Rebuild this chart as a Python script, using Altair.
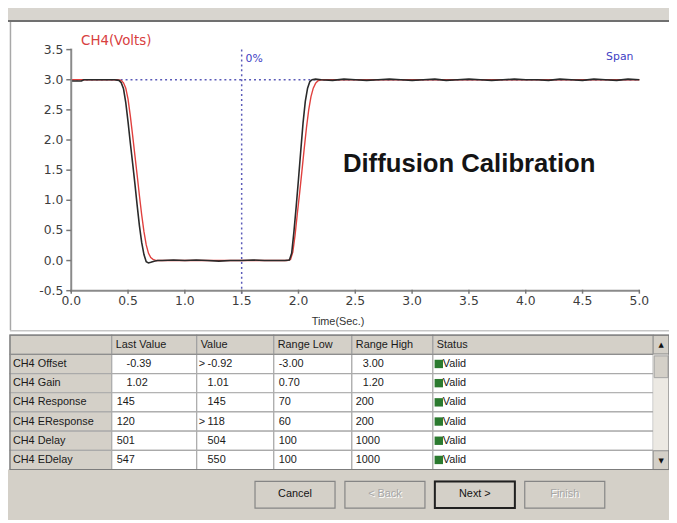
import altair as alt
import pandas as pd

# ---------------- data ----------------
t_black = [0.00, 0.05, 0.09, 0.11, 0.20, 0.30, 0.38, 0.42, 0.44, 0.46,
           0.48, 0.50, 0.52, 0.54, 0.56, 0.58, 0.60, 0.62, 0.64, 0.66,
           0.68, 0.70, 0.73, 0.76, 0.80, 0.90, 1.00, 1.10, 1.20, 1.30,
           1.40, 1.50, 1.60, 1.70, 1.80, 1.88, 1.92, 1.94, 1.96, 1.98,
           2.00, 2.02, 2.04, 2.06, 2.08, 2.10, 2.12, 2.15, 2.20, 2.30,
           2.40, 2.50, 2.60, 2.70, 2.80, 2.90, 3.00, 3.10, 3.20, 3.30,
           3.40, 3.50, 3.60, 3.70, 3.80, 3.90, 4.00, 4.10, 4.20, 4.30,
           4.40, 4.50, 4.60, 4.70, 4.80, 4.90, 5.00]
v_black = [2.98, 2.98, 2.98, 3.00, 3.00, 3.00, 3.00, 2.99, 2.95, 2.85,
           2.62, 2.30, 1.95, 1.62, 1.28, 0.92, 0.58, 0.30, 0.10, -0.02,
           -0.04, -0.03, -0.01, 0.00, 0.00, 0.01, 0.00, 0.01, 0.00, -0.01,
           0.00, 0.00, 0.01, 0.00, 0.00, 0.00, 0.01, 0.12, 0.48, 0.90,
           1.35, 1.82, 2.28, 2.64, 2.86, 2.97, 3.00, 3.01, 3.00, 2.99,
           3.01, 3.00, 2.99, 3.00, 3.01, 3.00, 2.99, 3.00, 3.01, 2.99,
           3.00, 3.01, 3.00, 2.99, 3.00, 3.01, 3.00, 3.00, 2.99, 3.01,
           3.00, 2.99, 3.01, 3.00, 2.99, 3.01, 3.00]
t_red = [0.00, 0.10, 0.20, 0.30, 0.40, 0.44, 0.46, 0.48, 0.50, 0.52,
         0.54, 0.56, 0.58, 0.60, 0.62, 0.64, 0.66, 0.68, 0.70, 0.72,
         0.75, 0.80, 0.90, 1.00, 1.20, 1.40, 1.60, 1.80, 1.90, 1.93,
         1.95, 1.97, 1.99, 2.01, 2.03, 2.05, 2.07, 2.09, 2.11, 2.13,
         2.15, 2.17, 2.20, 2.25, 2.40, 2.60, 3.00, 3.50, 4.00, 4.50,
         5.00]
v_red = [3.00, 3.00, 3.00, 3.00, 3.00, 2.99, 2.95, 2.86, 2.68, 2.40,
         2.08, 1.75, 1.42, 1.08, 0.76, 0.48, 0.26, 0.12, 0.05, 0.02,
         0.00, 0.00, 0.00, 0.00, 0.00, 0.00, 0.00, 0.00, 0.00, 0.02,
         0.14, 0.42, 0.78, 1.12, 1.48, 1.85, 2.20, 2.50, 2.72, 2.86,
         2.94, 2.98, 3.00, 3.00, 3.00, 3.00, 3.00, 3.00, 3.00, 3.00,
         3.00]

x_ticks = [0.0, 0.5, 1.0, 1.5, 2.0, 2.5, 3.0, 3.5, 4.0, 4.5, 5.0]
x_tick_labels = ["0.0", "0.5", "1.0", "1.5", "2.0", "2.5", "3.0", "3.5", "4.0", "4.5", "5.0"]
y_ticks = [-0.5, 0.0, 0.5, 1.0, 1.5, 2.0, 2.5, 3.0, 3.5]
y_tick_labels = ["-0.5", "0.0", "0.5", "1.0", "1.5", "2.0", "2.5", "3.0", "3.5"]
span_level = [3.0]
zero_time = [1.5]

params = ["CH4 Offset", "CH4 Gain", "CH4 Response", "CH4 EResponse", "CH4 Delay", "CH4 EDelay"]
last_value = ["-0.39", "1.02", "145", "120", "501", "547"]
value = ["-0.92", "1.01", "145", "118", "504", "550"]
value_flag = [">", "", "", ">", "", ""]
range_low = ["-3.00", "0.70", "70", "60", "100", "100"]
range_high = ["3.00", "1.20", "200", "200", "1000", "1000"]
status = ["Valid", "Valid", "Valid", "Valid", "Valid", "Valid"]
header_labels = ["", "Last Value", "Value", "Range Low", "Range High", "Status"]

buttons = ["Cancel", "< Back", "Next >", "Finish"]
button_enabled = [True, False, True, False]

# ---------------- layout helpers ----------------
OFF = 8          # page margin: reference pixel -> chart pixel
W, H = 669, 515


def P(v):
    return v - OFF


one = pd.DataFrame({"k": [0]})
GRAY = "#d4d0c8"
GRID = "#aaaaaa"
UI_FONT = "Liberation Sans"
AX_FONT = "DejaVu Sans"


def box(x1, y1, x2, y2, fill, stroke=None, sw=1.0):
    kw = {}
    if fill is None:
        kw["fillOpacity"] = 0
        kw["fill"] = "white"
    else:
        kw["fill"] = fill
    if stroke:
        kw["stroke"] = stroke
        kw["strokeWidth"] = sw
    return alt.Chart(one).mark_rect(**kw).encode(
        x=alt.value(P(x1)), x2=alt.value(P(x2)),
        y=alt.value(P(y1)), y2=alt.value(P(y2)))


def hline(x1, x2, y, color, w=1.0):
    return alt.Chart(one).mark_rule(color=color, strokeWidth=w).encode(
        x=alt.value(P(x1)), x2=alt.value(P(x2)), y=alt.value(P(y)))


def vline(x, y1, y2, color, w=1.0):
    return alt.Chart(one).mark_rule(color=color, strokeWidth=w).encode(
        x=alt.value(P(x)), y=alt.value(P(y1)), y2=alt.value(P(y2)))


def label(x, y, text, **kw):
    return alt.Chart(one).mark_text(text=text, baseline="middle", **kw).encode(
        x=alt.value(P(x)), y=alt.value(P(y)))


# ---------------- plot ----------------
xs = alt.Scale(domain=[0, 5], range=[P(72), P(647)], nice=False, zero=False)
ys = alt.Scale(domain=[-0.5, 3.5], range=[P(291), P(47)], nice=False, zero=False)
X = lambda f: alt.X(f, scale=xs, axis=None)
Y = lambda f: alt.Y(f, scale=ys, axis=None)

df_black = pd.DataFrame({"t": t_black, "v": v_black})
df_red = pd.DataFrame({"t": t_red, "v": v_red})
df_xt = pd.DataFrame({"t": x_ticks, "lab": x_tick_labels})
df_yt = pd.DataFrame({"v": y_ticks, "lab": y_tick_labels})

span_rule = alt.Chart(pd.DataFrame({"v": span_level})).mark_rule(
    color="#5a5ab8", strokeDash=[2, 3], strokeWidth=1.5).encode(
    y=Y("v:Q"), x=alt.value(P(72)), x2=alt.value(P(647)))
zero_rule = alt.Chart(pd.DataFrame({"t": zero_time})).mark_rule(
    color="#5a5ab8", strokeDash=[2, 3], strokeWidth=1.5).encode(
    x=X("t:Q"), y=alt.value(P(47)), y2=alt.value(P(296)))
zero_lab = alt.Chart(pd.DataFrame({"t": zero_time})).mark_text(
    text="0%", align="left", baseline="middle", dx=4, font=AX_FONT, fontSize=11,
    color="#4040c4").encode(x=X("t:Q"), y=alt.value(P(57)))
span_lab = alt.Chart(pd.DataFrame({"t": [5.0]})).mark_text(
    text="Span", align="right", baseline="middle", dx=-6, font=AX_FONT, fontSize=11,
    color="#4040c4").encode(x=X("t:Q"), y=alt.value(P(55)))

red_line = alt.Chart(df_red).mark_line(color="#e0403e", strokeWidth=1.4).encode(
    x=X("t:Q"), y=Y("v:Q"), order="t:Q")
black_line = alt.Chart(df_black).mark_line(color="#2a2a2a", strokeWidth=1.6).encode(
    x=X("t:Q"), y=Y("v:Q"), order="t:Q")

y_axis_line = vline(72, 46, 292, "#8a8a8a", 2)
x_axis_line = hline(71, 647, 291, "#8a8a8a", 2)
y_tick_marks = alt.Chart(df_yt).mark_rule(color="#777777", strokeWidth=1.5).encode(
    y=Y("v:Q"), x=alt.value(P(67)), x2=alt.value(P(72)))
y_tick_labs = alt.Chart(df_yt).mark_text(
    align="right", baseline="middle", font=AX_FONT, fontSize=12.5, color="#3c3c3c").encode(
    y=Y("v:Q"), x=alt.value(P(64)), text="lab:N")
x_tick_marks = alt.Chart(df_xt).mark_rule(color="#777777", strokeWidth=1.5).encode(
    x=X("t:Q"), y=alt.value(P(290)), y2=alt.value(P(294)))
x_tick_labs = alt.Chart(df_xt).mark_text(
    align="center", baseline="middle", font=AX_FONT, fontSize=12.5, color="#3c3c3c").encode(
    x=X("t:Q"), y=alt.value(P(301)), text="lab:N")

plot = alt.layer(span_rule, zero_rule, red_line, black_line,
                 y_axis_line, x_axis_line, y_tick_marks, y_tick_labs,
                 x_tick_marks, x_tick_labs, zero_lab, span_lab)

texts = alt.layer(
    label(82, 38, "CH4(Volts)", align="left", font=AX_FONT, fontSize=13.5, color="#d8403e"),
    label(347, 163, "Diffusion Calibration", align="left", font=UI_FONT,
          fontSize=26, fontWeight="bold", color="#141414"),
    label(342, 323, "Time(Sec.)", align="center", font=UI_FONT, fontSize=11, color="#333333"),
)

# ---------------- table ----------------
row_keys = ["header"] + params
rs = alt.Scale(domain=row_keys, range=[P(336), P(472)], paddingInner=0, paddingOuter=0)
RY = alt.Y("row:N", scale=rs, axis=None)

body = pd.DataFrame({
    "row": params, "param": params, "last": last_value, "value": value,
    "flag": value_flag, "low": range_low, "high": range_high, "status": status,
})
hdr = pd.DataFrame({"row": ["header"] * len(header_labels),
                    "col": ["param", "last", "value", "low", "high", "status"],
                    "h": header_labels})

cols = {  # reference pixel edges of each column
    "param": (10, 113), "last": (113, 199), "value": (199, 277),
    "low": (277, 356), "high": (356, 438), "status": (438, 661),
}
TXT = dict(font=UI_FONT, fontSize=11, color="#1a1a1a", align="left", baseline="middle")

tbl_layers = []
for key, (l, r) in cols.items():
    fill = GRAY if key == "param" else "white"
    tbl_layers.append(alt.Chart(body).mark_rect(fill=fill, stroke=GRID, strokeWidth=1.2).encode(
        y=RY, x=alt.value(P(l)), x2=alt.value(P(r))))
    tbl_layers.append(alt.Chart(hdr).transform_filter(f"datum.col == '{key}'").mark_rect(
        fill=GRAY, stroke="#a0a0a0", strokeWidth=1.2).encode(
        y=RY, x=alt.value(P(l)), x2=alt.value(P(r))))
    tbl_layers.append(alt.Chart(hdr).transform_filter(f"datum.col == '{key}'").mark_text(**TXT).encode(
        y=RY, x=alt.value(P(l + 4)), text="h:N"))


def col_text(field, x_int, x_dec=None):
    if x_dec is None:
        return [alt.Chart(body).mark_text(**TXT).encode(y=RY, x=alt.value(P(x_int)), text=f"{field}:N")]
    return [
        alt.Chart(body).transform_filter(f"indexof(datum.{field}, '.') < 0").mark_text(**TXT).encode(
            y=RY, x=alt.value(P(x_int)), text=f"{field}:N"),
        alt.Chart(body).transform_filter(f"indexof(datum.{field}, '.') >= 0").mark_text(**TXT).encode(
            y=RY, x=alt.value(P(x_dec)), text=f"{field}:N"),
    ]


tbl_layers += col_text("param", 13)
tbl_layers += col_text("last", 118, 128)
tbl_layers += col_text("value", 210)
tbl_layers += [alt.Chart(body).mark_text(**TXT).encode(y=RY, x=alt.value(P(201)), text="flag:N")]
tbl_layers += col_text("low", 282)
tbl_layers += col_text("high", 360, 367)
tbl_layers += [alt.Chart(body).mark_point(shape="square", filled=True, size=72, opacity=1,
                                          color="#2b7a2f").encode(y=RY, x=alt.value(P(444)))]
tbl_layers += col_text("status", 448)

table = alt.layer(*tbl_layers)

# ---------------- buttons ----------------
bdf = pd.DataFrame({"b": buttons, "enabled": button_enabled})
bs = alt.Scale(domain=buttons, range=[P(258), P(612)], paddingInner=0.11, paddingOuter=0)
BX = alt.X("b:N", scale=bs, axis=None)
btn_face = alt.Chart(bdf).mark_rect(fill=GRAY, stroke="#858585", strokeWidth=1.2).encode(
    x=BX, y=alt.value(P(484)), y2=alt.value(P(511)))
btn_focus = alt.Chart(bdf).transform_filter("datum.b == 'Next >'").mark_rect(
    fill="white", fillOpacity=0, stroke="#202020", strokeWidth=2).encode(
    x=BX, y=alt.value(P(484)), y2=alt.value(P(511)))
btn_shadow = alt.Chart(bdf).transform_filter("!datum.enabled").mark_text(
    font=UI_FONT, fontSize=11, color="white", align="center", baseline="middle", dx=1, dy=1).encode(
    x=BX, y=alt.value(P(497)), text="b:N")
btn_text = alt.Chart(bdf).mark_text(
    font=UI_FONT, fontSize=11, align="center", baseline="middle").encode(
    x=BX, y=alt.value(P(497)), text="b:N",
    color=alt.condition("datum.enabled", alt.value("#141414"), alt.value("#a6a6a6")))
btns = alt.layer(btn_face, btn_focus, btn_shadow, btn_text)

# ---------------- window chrome ----------------
chrome_bg = [
    box(OFF, 3, 677, 17, "#d8d5cf"),
    hline(OFF, 677, 18, "#707070", 2),
    vline(10.5, 19, 331, "#a8a8a8", 1.5),
    hline(10, 677, 331.5, "#c6c6c6", 1.5),
    box(OFF, 472, 677, 523, GRAY),
]
chrome_fg = [
    box(661, 336, 677, 472, "#ece9e3"),
    box(661, 336, 677, 355, GRAY, "#8c8c8c", 1),
    box(662, 357, 676, 379, GRAY, "#a4a4a4", 1),
    box(661, 453, 677, 472, GRAY, "#8c8c8c", 1),
    label(669, 346, "\u25b2", align="center", font=AX_FONT, fontSize=7, color="#111111"),
    label(669, 463, "\u25bc", align="center", font=AX_FONT, fontSize=7, color="#111111"),
    box(10, 336, 677, 472, None, "#7c7c7c", 1.2),
    hline(10, 661, 355.5, "#8e8e8e", 1.2),
]

chart = alt.layer(
    *chrome_bg, plot, texts, table, *chrome_fg, btns
).resolve_scale(
    x="independent", y="independent"
).properties(
    width=W, height=H, padding=0,
    autosize=alt.AutoSizeParams(type="none"),
    background="white",
).configure_view(stroke=None)

chart.save("out.html", embed_options={"renderer": "svg", "actions": False})
